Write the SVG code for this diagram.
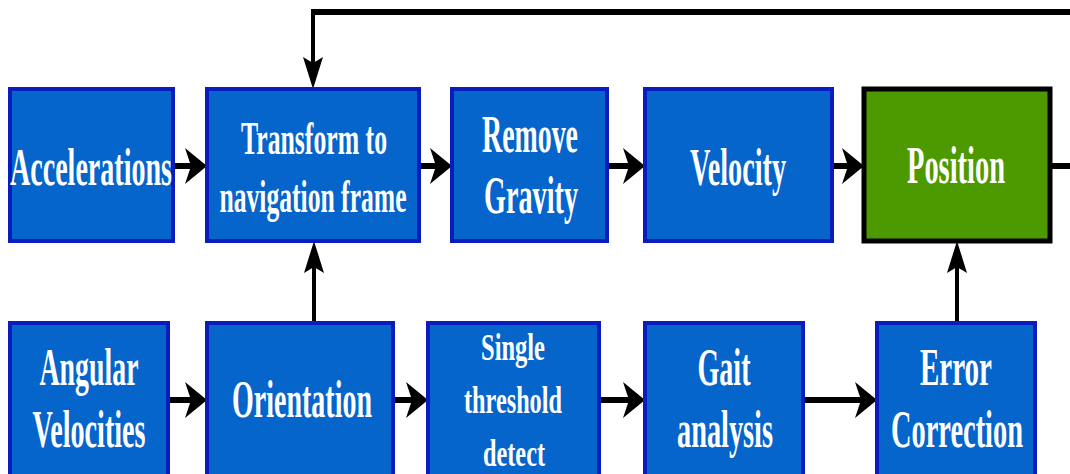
<svg xmlns="http://www.w3.org/2000/svg" width="1070" height="474" viewBox="0 0 1070 474">
<defs>
<style>
.b{fill:#0565CB;stroke:#0A1CBE;stroke-width:4}
.g{fill:#4C9900;stroke:#000;stroke-width:5}
.t{font-family:"Liberation Serif","Times New Roman",serif;font-weight:bold;fill:#fff;text-anchor:middle}
.L{font-size:52px}
.M{font-size:46px}
.S{font-size:38px}
.k{stroke:#000;stroke-width:6;fill:none}
.n{stroke:#000;stroke-width:4;fill:none}
</style>
<marker id="ah" markerUnits="userSpaceOnUse" viewBox="0 0 22 36" refX="6" refY="18" markerWidth="22" markerHeight="36" orient="auto">
<path d="M0,0 L22,18 L0,36 L6,18 Z" fill="#000"/>
</marker>
<marker id="av" markerUnits="userSpaceOnUse" viewBox="0 0 32 20" refX="6" refY="10" markerWidth="32" markerHeight="20" orient="auto">
<path d="M0,0 L32,10 L0,20 L6,10 Z" fill="#000"/>
</marker>
</defs>
<rect width="1070" height="474" fill="#fff"/>
<g id="connectors">
<path class="k" d="M1070,12 H311"/>
<path class="n" d="M313,10 V63" marker-end="url(#av)"/>
<path class="k" d="M173,166 H191" marker-end="url(#ah)"/>
<path class="k" d="M419,166 H436" marker-end="url(#ah)"/>
<path class="k" d="M607,166 H629" marker-end="url(#ah)"/>
<path class="k" d="M832,166 H848" marker-end="url(#ah)"/>
<path class="k" d="M1050,166 H1070"/>
<path class="k" d="M168,400 H191" marker-end="url(#ah)"/>
<path class="k" d="M393,400 H412" marker-end="url(#ah)"/>
<path class="k" d="M599,400 H629" marker-end="url(#ah)"/>
<path class="k" d="M803,400 H861" marker-end="url(#ah)"/>
<path class="n" d="M314,323 V267" marker-end="url(#av)"/>
<path class="n" d="M957,323 V267" marker-end="url(#av)"/>
</g>
<g id="accelerations">
<rect class="b" x="10" y="89" width="163" height="152"/>
<text class="t L" x="91" y="185" textLength="162" lengthAdjust="spacingAndGlyphs">Accelerations</text>
</g>
<g id="transform">
<rect class="b" x="207" y="89" width="212" height="152"/>
<text class="t M" x="314" y="154" textLength="146" lengthAdjust="spacingAndGlyphs">Transform to</text>
<text class="t M" x="313" y="212" textLength="187" lengthAdjust="spacingAndGlyphs">navigation frame</text>
</g>
<g id="remove-gravity">
<rect class="b" x="452" y="89" width="155" height="152"/>
<text class="t L" x="530" y="152" textLength="96" lengthAdjust="spacingAndGlyphs">Remove</text>
<text class="t L" x="531" y="213" textLength="94" lengthAdjust="spacingAndGlyphs">Gravity</text>
</g>
<g id="velocity">
<rect class="b" x="645" y="89" width="187" height="152"/>
<text class="t L" x="738" y="185" textLength="96" lengthAdjust="spacingAndGlyphs">Velocity</text>
</g>
<g id="position">
<rect class="g" x="864" y="89" width="186" height="152"/>
<text class="t L" x="956" y="183" textLength="98" lengthAdjust="spacingAndGlyphs">Position</text>
</g>
<g id="angular-velocities">
<rect class="b" x="10" y="323" width="158" height="160"/>
<text class="t L" x="89" y="385" textLength="99" lengthAdjust="spacingAndGlyphs">Angular</text>
<text class="t L" x="89" y="447" textLength="113" lengthAdjust="spacingAndGlyphs">Velocities</text>
</g>
<g id="orientation">
<rect class="b" x="207" y="323" width="186" height="160"/>
<text class="t L" x="302" y="417" textLength="140" lengthAdjust="spacingAndGlyphs">Orientation</text>
</g>
<g id="single-threshold">
<rect class="b" x="428" y="323" width="171" height="160"/>
<text class="t S" x="513" y="360" textLength="64" lengthAdjust="spacingAndGlyphs">Single</text>
<text class="t S" x="513" y="413" textLength="98" lengthAdjust="spacingAndGlyphs">threshold</text>
<text class="t S" x="514" y="466" textLength="62" lengthAdjust="spacingAndGlyphs">detect</text>
</g>
<g id="gait-analysis">
<rect class="b" x="645" y="323" width="158" height="160"/>
<text class="t L" x="724" y="385" textLength="53" lengthAdjust="spacingAndGlyphs">Gait</text>
<text class="t L" x="725" y="447" textLength="96" lengthAdjust="spacingAndGlyphs">analysis</text>
</g>
<g id="error-correction">
<rect class="b" x="877" y="323" width="158" height="160"/>
<text class="t L" x="956" y="385" textLength="72" lengthAdjust="spacingAndGlyphs">Error</text>
<text class="t L" x="957" y="447" textLength="132" lengthAdjust="spacingAndGlyphs">Correction</text>
</g>
</svg>
